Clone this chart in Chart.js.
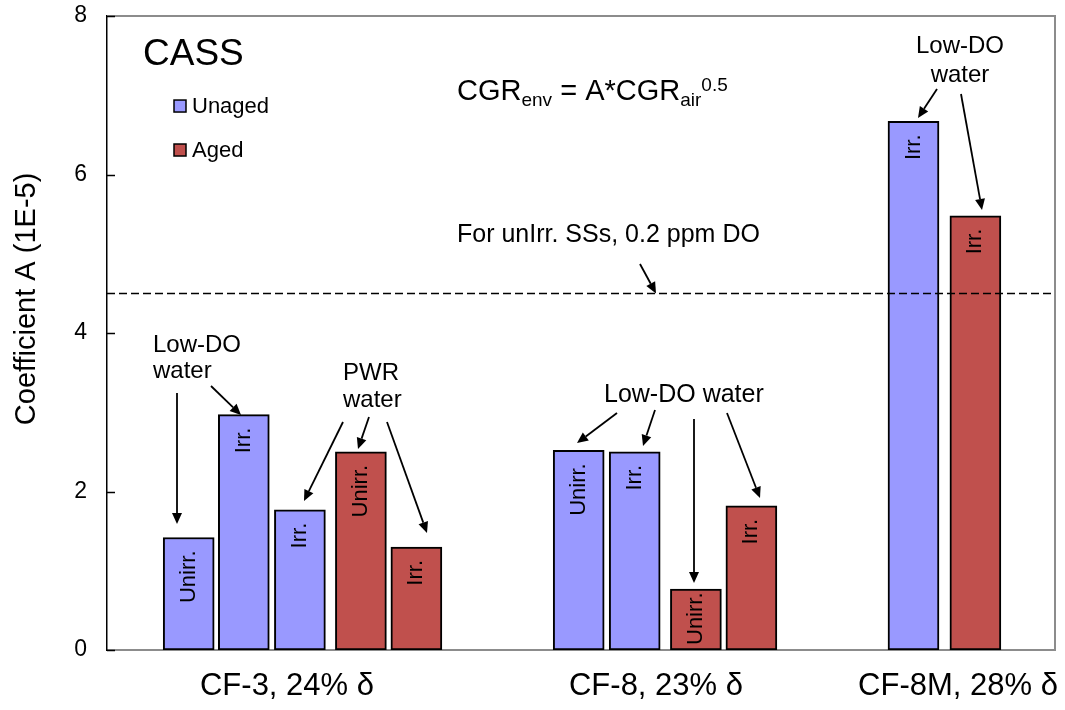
<!DOCTYPE html>
<html>
<head>
<meta charset="utf-8">
<script src="https://cdn.jsdelivr.net/npm/chart.js@4.4.1/dist/chart.umd.min.js"></script>
<style>
html,body{margin:0;padding:0;background:#fff;}
#wrap{width:1065px;height:710px;position:relative;}
</style>
</head>
<body>
<div id="wrap"><canvas id="c" width="1065" height="710"></canvas></div>
<script>
// ---------- data ----------
const categories = ['CF-3, 24% \u03b4', 'CF-8, 23% \u03b4', 'CF-8M, 28% \u03b4'];
const categorySlots = [180, 549, 851];
const seriesNames = ['Unaged', 'Aged'];
const unagedSlots = [81.7, 136.8, 192.9, 471.7, 527.7, 806.5];
const unagedValues = [1.42, 2.97, 1.77, 2.52, 2.50, 6.67];
const unagedLabels = ['Unirr.', 'Irr.', 'Irr.', 'Unirr.', 'Irr.', 'Irr.'];
const agedSlots = [253.9, 309.4, 588.9, 644.4, 868.4];
const agedValues = [2.50, 1.30, 0.77, 1.82, 5.48];
const agedLabels = ['Unirr.', 'Irr.', 'Unirr.', 'Irr.', 'Irr.'];
const yTickValues = [0, 2, 4, 6, 8];
const referenceLevel = 4.5;
const yTitle = 'Coefficient A (1E-5)';

// ---------- style ----------
const FONT = '"Liberation Sans", Arial, sans-serif';
const PURPLE = '#9999FF', RED = '#C0504D', FRAME = '#8c8c8c';

// annotations (positions in data units: x slot, y value)
const texts = [
  {t: 'CASS', x: 36, y: 7.38, size: 37, align: 'left'},
  {t: 'For unIrr. SSs, 0.2 ppm DO', x: 350, y: 5.148, size: 25, align: 'left'},
  {t: 'Low-DO', x: 46, y: 3.76, size: 24, align: 'left'},
  {t: 'water', x: 46, y: 3.432, size: 24, align: 'left'},
  {t: 'PWR', x: 236, y: 3.407, size: 24, align: 'left'},
  {t: 'water', x: 236, y: 3.066, size: 24, align: 'left'},
  {t: 'Low-DO water', x: 497, y: 3.129, size: 25, align: 'left'},
  {t: 'Low-DO', x: 853, y: 7.533, size: 24, align: 'center'},
  {t: 'water', x: 853, y: 7.167, size: 24, align: 'center'}
];
const arrows = [
  [533, 4.871, 549, 4.5],
  [70, 3.243, 70, 1.59],
  [104, 3.331, 134, 2.965],
  [236, 2.877, 197, 1.88],
  [262, 2.94, 251, 2.536],
  [280, 2.877, 320, 1.476],
  [510, 2.99, 470, 2.612],
  [548, 3.028, 536, 2.574],
  [587, 2.915, 587, 0.845],
  [620, 2.99, 653, 1.918],
  [830, 7.079, 811, 6.713],
  [854, 7.016, 875, 5.552]
];

function drawArrow(ctx, x1, y1, x2, y2) {
  const a = Math.atan2(y2 - y1, x2 - x1), L = 11, W = 5;
  const bx = x2 - L * Math.cos(a), by = y2 - L * Math.sin(a);
  ctx.beginPath(); ctx.moveTo(x1, y1); ctx.lineTo(bx, by); ctx.stroke();
  ctx.beginPath();
  ctx.moveTo(x2, y2);
  ctx.lineTo(bx + W * Math.sin(a), by - W * Math.cos(a));
  ctx.lineTo(bx - W * Math.sin(a), by + W * Math.cos(a));
  ctx.closePath(); ctx.fill();
}

const decorPlugin = {
  id: 'decor',
  beforeDatasetsDraw(chart) {
    const ctx = chart.ctx, a = chart.chartArea;
    ctx.save();
    ctx.strokeStyle = FRAME; ctx.lineWidth = 2;
    ctx.beginPath();
    ctx.moveTo(a.left, a.top); ctx.lineTo(a.right, a.top); ctx.lineTo(a.right, a.bottom);
    ctx.stroke();
    ctx.strokeStyle = '#000'; ctx.lineWidth = 1.5;
    yTickValues.forEach(v => {
      const y = Math.round(chart.scales.y.getPixelForValue(v)) + 0.5;
      ctx.beginPath(); ctx.moveTo(a.left, y); ctx.lineTo(a.left + 8, y); ctx.stroke();
    });
    // y axis title
    ctx.fillStyle = '#000';
    ctx.font = '29px ' + FONT;
    ctx.textAlign = 'center'; ctx.textBaseline = 'middle';
    ctx.translate(a.left - 80, chart.scales.y.getPixelForValue(4.43));
    ctx.rotate(-Math.PI / 2);
    ctx.fillText(yTitle, 0, 0);
    ctx.restore();
  },
  afterDatasetsDraw(chart) {
    const ctx = chart.ctx, xs = chart.scales.x, ys = chart.scales.y;
    ctx.save();
    ctx.fillStyle = '#000';
    // labels inside bars
    const labelSets = [unagedLabels, agedLabels];
    [0, 1].forEach(di => {
      const meta = chart.getDatasetMeta(di);
      meta.data.forEach((el, i) => {
        const t = labelSets[di][i];
        ctx.font = '22px ' + FONT;
        const w = ctx.measureText(t).width;
        const ay = Math.min(el.y + 13, el.base - w - 5);
        ctx.save();
        ctx.translate(el.x, ay);
        ctx.rotate(-Math.PI / 2);
        ctx.textAlign = 'right'; ctx.textBaseline = 'middle';
        ctx.fillText(t, 0, 0);
        ctx.restore();
      });
    });
    // text annotations
    ctx.textBaseline = 'alphabetic';
    texts.forEach(n => {
      ctx.font = n.size + 'px ' + FONT;
      ctx.textAlign = n.align;
      ctx.fillText(n.t, xs.getPixelForValue(n.x), ys.getPixelForValue(n.y));
    });
    // formula CGRenv = A*CGRair^0.5
    let fx = xs.getPixelForValue(350), fy = ys.getPixelForValue(6.94);
    ctx.textAlign = 'left';
    const parts = [['CGR', 29, 0], ['env', 19, 6], [' = A*CGR', 29, 0], ['air', 19, 6], ['0.5', 19, -9]];
    parts.forEach(p => {
      ctx.font = p[1] + 'px ' + FONT;
      ctx.fillText(p[0], fx, fy + p[2]);
      fx += ctx.measureText(p[0]).width;
    });
    // legend
    const legY = [6.864, 6.309], legColors = [PURPLE, RED];
    seriesNames.forEach((s, i) => {
      const lx = xs.getPixelForValue(67), ly = ys.getPixelForValue(legY[i]);
      ctx.fillStyle = legColors[i];
      ctx.fillRect(lx, ly - 6, 12, 12);
      ctx.strokeStyle = '#000'; ctx.lineWidth = 1.5;
      ctx.strokeRect(lx, ly - 6, 12, 12);
      ctx.fillStyle = '#000';
      ctx.font = '22px ' + FONT;
      ctx.textAlign = 'left'; ctx.textBaseline = 'middle';
      ctx.fillText(s, xs.getPixelForValue(85), ly + 1);
    });
    // arrows
    ctx.strokeStyle = '#000'; ctx.fillStyle = '#000'; ctx.lineWidth = 1.8;
    arrows.forEach(r => drawArrow(ctx, xs.getPixelForValue(r[0]), ys.getPixelForValue(r[1]),
                                       xs.getPixelForValue(r[2]), ys.getPixelForValue(r[3])));
    ctx.restore();
  }
};

Chart.defaults.font.family = FONT;
Chart.defaults.color = '#000';

new Chart(document.getElementById('c'), {
  type: 'bar',
  data: {
    datasets: [
      {
        label: seriesNames[0], order: 1,
        data: unagedSlots.map((x, i) => ({x: x, y: unagedValues[i]})),
        backgroundColor: PURPLE, borderColor: '#000', borderWidth: 2, borderSkipped: false,
        barThickness: 51, grouped: false
      },
      {
        label: seriesNames[1], order: 1,
        data: agedSlots.map((x, i) => ({x: x, y: agedValues[i]})),
        backgroundColor: RED, borderColor: '#000', borderWidth: 2, borderSkipped: false,
        barThickness: 51, grouped: false
      },
      {
        type: 'line', label: 'ref', order: 0,
        data: [{x: 0, y: referenceLevel}, {x: 948, y: referenceLevel}],
        borderColor: '#000', borderWidth: 1.5, borderDash: [8, 4], pointRadius: 0, fill: false
      }
    ]
  },
  options: {
    responsive: false,
    animation: false,
    layout: {padding: {top: 16, right: 10, left: 0, bottom: 0}},
    plugins: {legend: {display: false}, tooltip: {enabled: false}},
    scales: {
      x: {
        type: 'linear', min: 0, max: 948, offset: false,
        grid: {display: false, drawTicks: false},
        border: {display: true, color: FRAME, width: 2},
        afterBuildTicks: axis => { axis.ticks = categorySlots.map(v => ({value: v})); },
        afterFit: s => { s.height = 60; s.paddingLeft = 0; s.paddingRight = 0; },
        ticks: {
          autoSkip: false, maxRotation: 0, padding: 18,
          font: {size: 31},
          callback: v => categories[categorySlots.indexOf(v)]
        }
      },
      y: {
        min: 0, max: 8,
        grid: {display: false, drawTicks: false},
        border: {display: true, color: '#000', width: 1.5},
        afterBuildTicks: axis => { axis.ticks = yTickValues.map(v => ({value: v})); },
        afterFit: s => { s.width = 107; s.paddingTop = 0; s.paddingBottom = 0; },
        ticks: {padding: 20, font: {size: 23}}
      }
    }
  },
  plugins: [decorPlugin]
});
</script>
</body>
</html>
